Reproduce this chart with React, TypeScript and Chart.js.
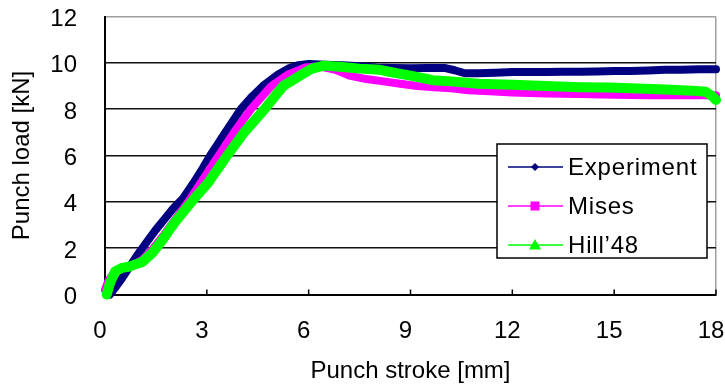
import React, { useEffect, useRef } from 'react';
import { Chart, registerables } from 'chart.js';

Chart.register(...registerables);

// ---- data ----
const seriesNames = ['Experiment', 'Mises', 'Hill\u201948'];
const seriesColors = ['#000080', '#FF00FF', '#00FF00'];

const expX = [0.15, 0.3, 0.5, 0.75, 1.0, 1.25, 1.5, 1.75, 2.0, 2.3, 2.6, 2.9, 3.1, 3.3, 3.5, 3.75, 4.0, 4.3, 4.65, 5.1, 5.4, 5.7, 6.0, 6.5, 7.0, 7.5, 8.0, 8.5, 9.0, 9.5, 10.0, 10.3, 10.6, 11.0, 11.5, 12.0, 12.5, 13.0, 13.5, 14.0, 14.5, 15.0, 15.5, 16.0, 16.5, 17.0, 17.5, 18.0];
const expY = [0.0, 0.3, 0.7, 1.25, 1.8, 2.3, 2.8, 3.25, 3.7, 4.15, 4.8, 5.5, 6.0, 6.45, 6.9, 7.45, 8.0, 8.5, 9.0, 9.5, 9.75, 9.9, 9.95, 9.92, 9.9, 9.85, 9.8, 9.78, 9.77, 9.78, 9.78, 9.68, 9.55, 9.55, 9.57, 9.6, 9.6, 9.6, 9.62, 9.62, 9.63, 9.65, 9.65, 9.67, 9.7, 9.7, 9.72, 9.72];

const misesX = [0.0, 0.1, 0.3, 0.5, 0.8, 1.1, 1.4, 1.7, 2.0, 2.45, 2.9, 3.35, 3.8, 4.3, 4.9, 5.4, 5.9, 6.3, 6.8, 7.2, 7.7, 8.2, 8.7, 9.2, 9.7, 10.2, 10.7, 11.2, 12.0, 13.0, 14.0, 15.0, 16.0, 17.0, 18.0];
const misesY = [0.2, 0.6, 1.0, 1.15, 1.25, 1.5, 1.95, 2.5, 3.1, 4.0, 5.0, 6.0, 7.0, 8.0, 9.0, 9.5, 9.8, 9.85, 9.7, 9.45, 9.3, 9.2, 9.1, 9.0, 8.95, 8.9, 8.82, 8.78, 8.72, 8.68, 8.65, 8.62, 8.6, 8.6, 8.6];

const hillX = [0.05, 0.15, 0.3, 0.5, 0.7, 0.9, 1.1, 1.4, 1.7, 2.05, 2.55, 3.05, 3.6, 4.1, 4.7, 5.25, 5.8, 6.1, 6.45, 7.0, 7.5, 8.1, 8.6, 9.0, 9.65, 10.2, 11.0, 12.0, 13.0, 14.0, 14.85, 15.5, 16.5, 17.3, 17.7, 17.9, 18.0];
const hillY = [0.0, 0.5, 1.0, 1.15, 1.2, 1.3, 1.4, 1.8, 2.37, 3.1, 4.0, 4.85, 6.0, 7.0, 8.0, 9.0, 9.5, 9.75, 9.88, 9.82, 9.75, 9.7, 9.55, 9.45, 9.25, 9.2, 9.1, 9.05, 9.0, 8.95, 8.93, 8.9, 8.85, 8.8, 8.75, 8.55, 8.4];

const xTicks = [0, 3, 6, 9, 12, 15, 18];
const yTicks = [0, 2, 4, 6, 8, 10, 12];
const xTitle = 'Punch stroke [mm]';
const yTitle = 'Punch load [kN]';

const FONT = "'Liberation Sans', Arial, sans-serif";

const toPts = (xs: number[], ys: number[]) => xs.map((x, i) => ({ x, y: ys[i] }));

function drawMarker(ctx: CanvasRenderingContext2D, kind: number, x: number, y: number, color: string) {
  ctx.fillStyle = color;
  ctx.beginPath();
  if (kind === 0) {
    const r = 4;
    ctx.moveTo(x, y - r); ctx.lineTo(x + r, y); ctx.lineTo(x, y + r); ctx.lineTo(x - r, y);
  } else if (kind === 1) {
    const r = 4.5;
    ctx.rect(x - r, y - r, 2 * r, 2 * r);
  } else {
    const r = 6;
    ctx.moveTo(x, y - r); ctx.lineTo(x + r, y + r * 0.75); ctx.lineTo(x - r, y + r * 0.75);
  }
  ctx.closePath();
  ctx.fill();
}

const framePlugin = {
  id: 'frameAndLegend',
  afterDatasetsDraw(chart: any) {
    const ctx: CanvasRenderingContext2D = chart.ctx;
    const xs = chart.scales.x;
    const { bottom } = chart.chartArea;
    ctx.save();
    ctx.strokeStyle = '#000';
    ctx.lineWidth = 1.5;
    for (const v of xTicks) {
      if (v === 0) continue;
      const px = xs.getPixelForValue(v);
      ctx.beginPath();
      ctx.moveTo(px, bottom);
      ctx.lineTo(px, bottom - 5);
      ctx.stroke();
    }
    ctx.restore();
  },
  afterDraw(chart: any) {
    const ctx: CanvasRenderingContext2D = chart.ctx;
    ctx.save();
    const bx = 497, by = 144, bw = 210, bh = 114;
    ctx.fillStyle = '#fff';
    ctx.fillRect(bx, by, bw, bh);
    ctx.strokeStyle = '#000';
    ctx.lineWidth = 1.5;
    ctx.strokeRect(bx, by, bw, bh);
    const rows = [167, 206, 245];
    ctx.font = `24px ${FONT}`;
    ctx.textBaseline = 'middle';
    ctx.textAlign = 'left';
    try { (ctx as any).letterSpacing = '0.8px'; } catch (e) {}
    seriesNames.forEach((name, i) => {
      const y = rows[i];
      ctx.strokeStyle = seriesColors[i];
      ctx.lineWidth = 1.5;
      ctx.beginPath();
      ctx.moveTo(508, y);
      ctx.lineTo(563, y);
      ctx.stroke();
      drawMarker(ctx, i, 535, y, seriesColors[i]);
      ctx.fillStyle = '#000';
      ctx.fillText(name, 568, y + 1);
    });
    ctx.restore();
  },
};

export default function App() {
  const ref = useRef<HTMLCanvasElement | null>(null);
  useEffect(() => {
    if (!ref.current) return;
    const mk = (i: number, xs: number[], ys: number[], w: number, order: number) => ({
      label: seriesNames[i],
      data: toPts(xs, ys),
      borderColor: seriesColors[i],
      backgroundColor: seriesColors[i],
      borderWidth: w,
      pointRadius: 0,
      borderCapStyle: 'round',
      borderJoinStyle: 'round',
      tension: 0,
      clip: false,
      order,
    });
    const chart = new Chart(ref.current, {
      type: 'line',
      data: {
        datasets: [
          mk(0, expX, expY, 8, 2),
          mk(1, misesX, misesY, 8, 1),
          mk(2, hillX, hillY, 10, 0),
        ] as any,
      },
      options: {
        animation: false,
        responsive: false,
        layout: { padding: { top: 16.5, right: 9, left: 0, bottom: 0 } },
        plugins: { legend: { display: false }, tooltip: { enabled: false } },
        scales: {
          x: {
            type: 'linear',
            min: 0,
            max: 18,
            afterBuildTicks: (s: any) => { s.ticks = xTicks.map((v) => ({ value: v })); },
            afterFit: (s: any) => { s.height = 92.5; s.paddingLeft = 0; s.paddingRight = 0; },
            ticks: {
              color: '#000',
              font: { family: FONT, size: 24 },
              padding: 22,
              labelOffset: -5,
              maxRotation: 0,
            },
            grid: {
              drawTicks: false,
              color: (c: any) => (c.tick && c.tick.value === 18 ? '#a0a0a0' : 'rgba(0,0,0,0)'),
              lineWidth: 1.5,
            },
            border: { color: '#000', width: 2 },
            title: {
              display: true,
              text: xTitle,
              color: '#000',
              font: { family: FONT, size: 24 },
              padding: { top: 0, bottom: 1 },
            },
          },
          y: {
            type: 'linear',
            min: 0,
            max: 12,
            afterBuildTicks: (s: any) => { s.ticks = yTicks.map((v) => ({ value: v })); },
            afterFit: (s: any) => { s.width = 105; s.paddingTop = 0; s.paddingBottom = 0; },
            ticks: {
              color: '#000',
              font: { family: FONT, size: 24 },
              padding: 28,
              labelOffset: 3,
            },
            grid: {
              drawTicks: false,
              color: (c: any) => (c.tick && c.tick.value === 12 ? '#a0a0a0' : '#111'),
              lineWidth: 1.5,
            },
            border: { color: '#000', width: 2 },
            title: {
              display: true,
              text: yTitle,
              color: '#000',
              font: { family: FONT, size: 24 },
              padding: { top: 8, bottom: 0 },
            },
          },
        },
      },
      plugins: [framePlugin as any],
    });
    return () => chart.destroy();
  }, []);
  return (
    <div style={{ position: 'absolute', left: 0, top: 0, width: 725, height: 387, background: '#fff' }}>
      <canvas ref={ref} width={725} height={387} style={{ display: 'block' }} />
    </div>
  );
}
